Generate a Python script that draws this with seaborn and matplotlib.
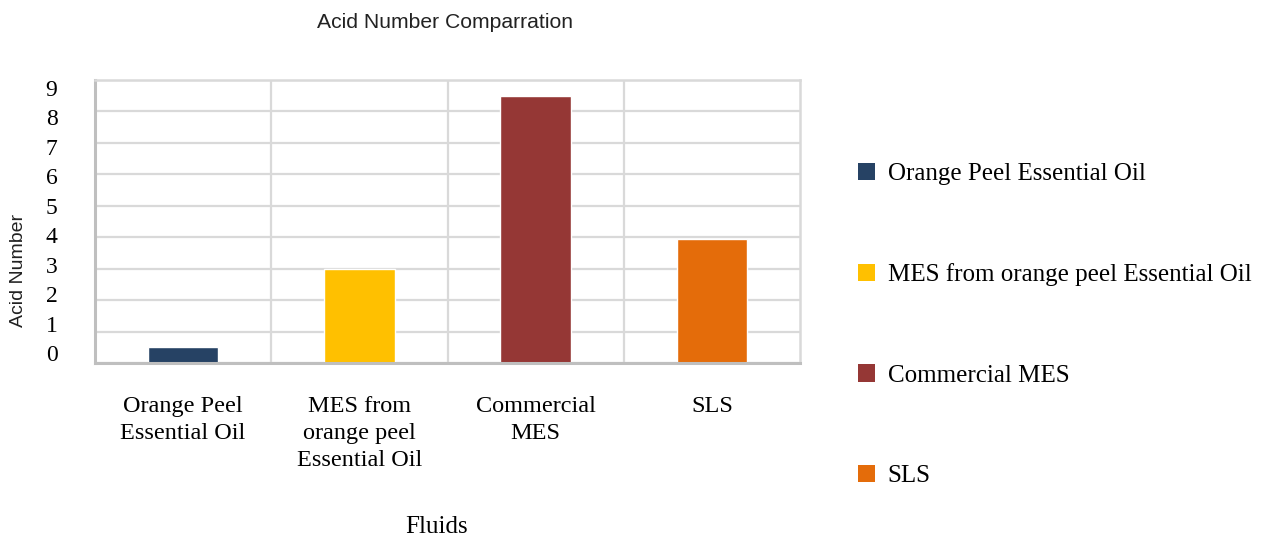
import matplotlib
matplotlib.use("Agg")
import matplotlib.pyplot as plt
from matplotlib.patches import Patch
from matplotlib.ticker import FixedLocator
from matplotlib.transforms import ScaledTranslation
import seaborn as sns
import pandas as pd

# Acid numbers measured for each fluid
categories = [
    "Orange Peel Essential Oil",
    "MES from orange peel Essential Oil",
    "Commercial MES",
    "SLS",
]
tick_labels = [
    "Orange Peel\nEssential Oil",
    "MES from\norange peel\nEssential Oil",
    "Commercial\nMES",
    "SLS",
]
acid_number = [0.5, 3.0, 8.5, 3.95]
colors = ["#264264", "#FFC000", "#953735", "#E46C0A"]
y_ticks = list(range(0, 10))

df = pd.DataFrame({"Fluid": categories, "Acid Number": acid_number})

sns.set_theme(style="white")
serif = ["Liberation Serif", "DejaVu Serif"]
sans = ["Liberation Sans", "DejaVu Sans"]

fig = plt.figure(figsize=(12.63, 5.41), dpi=100)
ax = fig.add_axes([95 / 1263, 1 - 363 / 541, 705 / 1263, 283 / 541])

sns.barplot(
    data=df, x="Fluid", y="Acid Number", hue="Fluid",
    palette=colors, order=categories, hue_order=categories,
    dodge=False, width=0.4, legend=False, saturation=1, ax=ax,
)

ax.set_xlim(-0.5, len(categories) - 0.5)
ax.set_ylim(0, 9)
ax.set_yticks(y_ticks)
ax.set_yticklabels([str(t) for t in y_ticks], fontfamily=serif, fontsize=17, color="black")
ax.set_xticks(range(len(categories)))
ax.set_xticklabels(tick_labels, fontfamily=serif, fontsize=17.5, color="black", linespacing=1.35)
ax.tick_params(axis="y", length=0, pad=27)
ax.tick_params(axis="x", length=0, pad=24)

# the y labels sit on a slightly tighter ladder than the gridlines
for v, lab in zip(y_ticks, ax.get_yticklabels()):
    dy_px = 10 - 2 * v
    lab.set_transform(lab.get_transform() + ScaledTranslation(0, dy_px / 100, fig.dpi_scale_trans))

# grid: horizontal at each unit, vertical at category boundaries
ax.xaxis.set_minor_locator(FixedLocator([0.5, 1.5, 2.5]))
ax.grid(axis="y", which="major", color="#d9d9d9", linewidth=1.6)
ax.grid(axis="x", which="minor", color="#d9d9d9", linewidth=1.6)
ax.grid(axis="x", which="major", visible=False)
ax.tick_params(axis="x", which="minor", length=0)
ax.set_axisbelow(True)

for side in ["top", "right"]:
    ax.spines[side].set_color("#d9d9d9")
    ax.spines[side].set_linewidth(1.8)
for side in ["left", "bottom"]:
    ax.spines[side].set_color("#bfbfbf")
    ax.spines[side].set_linewidth(2.2)

ax.set_ylabel("Acid Number", fontfamily=sans, fontsize=14, color="#222222", va="center")
ax.yaxis.set_label_coords(-(95 - 19) / 705, (363 - 270) / 283)
ax.set_xlabel("Fluids", fontfamily=serif, fontsize=18, color="black", va="center")
ax.xaxis.set_label_coords((437 - 95) / 705, -(527 - 363) / 283)

fig.text(445 / 1263, 1 - 22 / 541, "Acid Number Comparration",
         ha="center", va="center", fontfamily=sans, fontsize=15.2, color="#222222")

handles = [Patch(facecolor=c, edgecolor="none") for c in colors]
leg = fig.legend(
    handles, categories, loc="upper left",
    bbox_to_anchor=(858 / 1263, 1 - 163 / 541),
    frameon=False, borderpad=0, borderaxespad=0,
    handlelength=0.68, handleheight=0.68, handletextpad=0.5,
    labelspacing=3.12, prop={"family": serif, "size": 18},
    labelcolor="black",
)

fig.savefig("out.png", dpi=100, facecolor="white")
